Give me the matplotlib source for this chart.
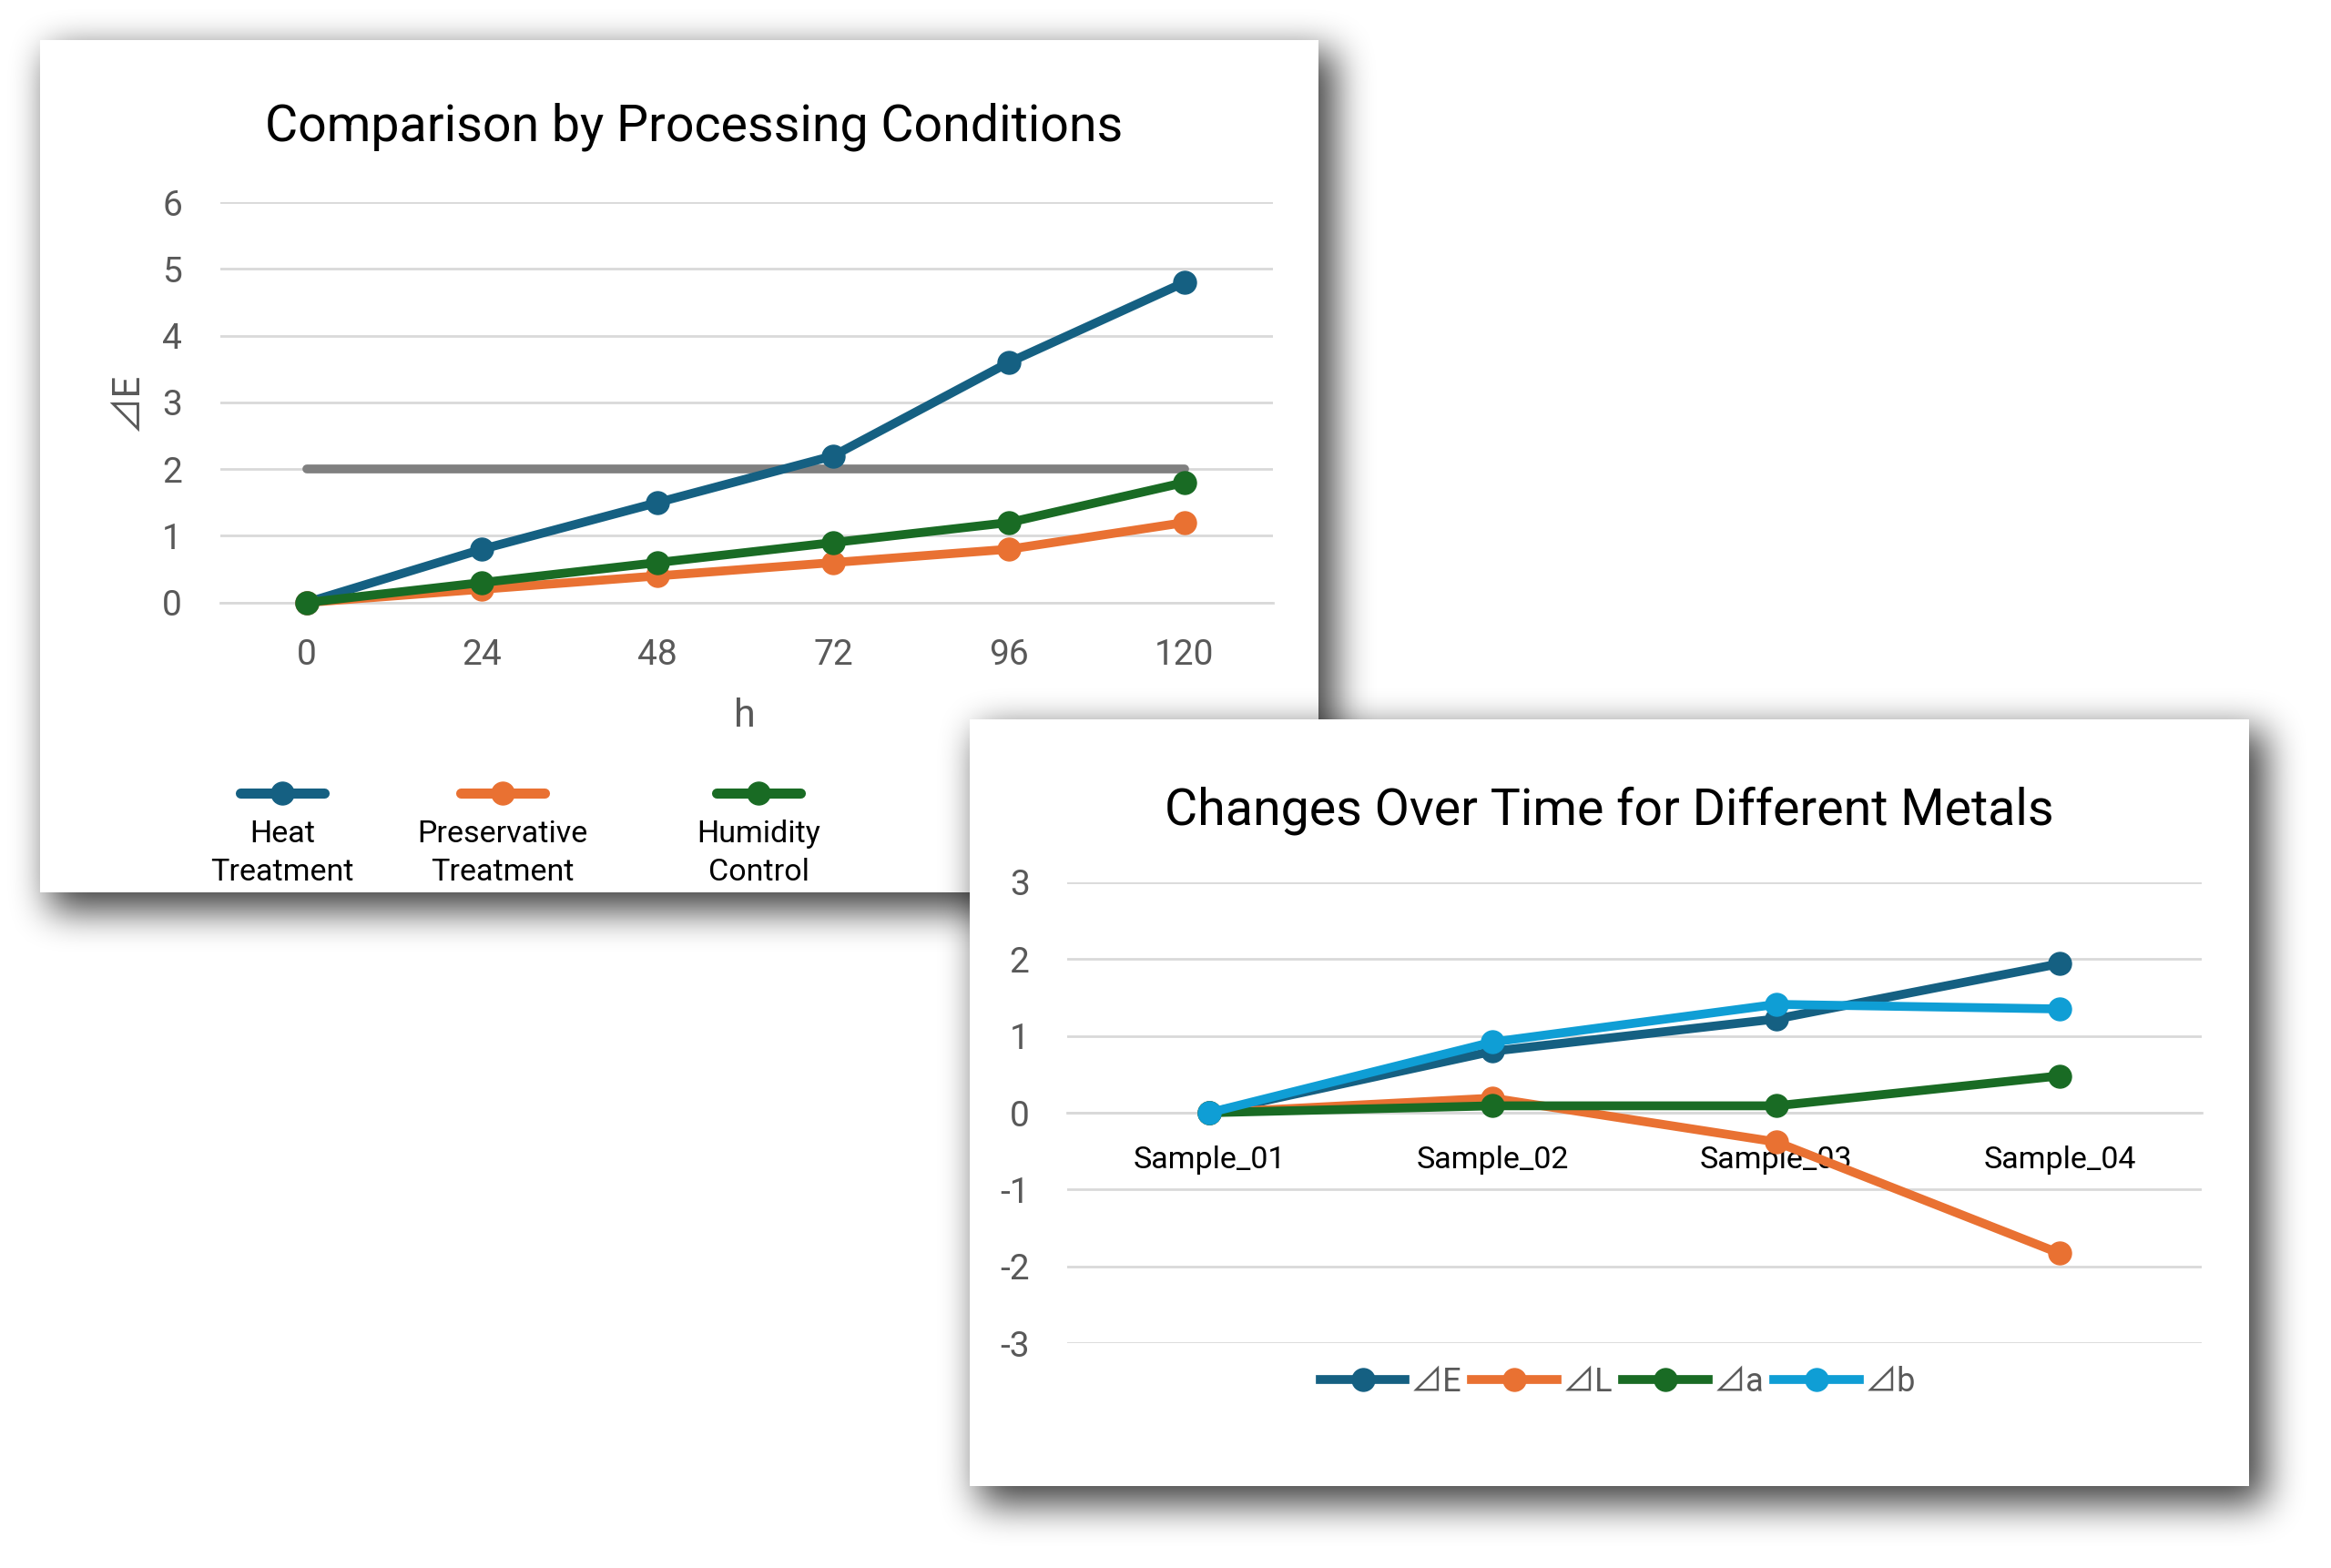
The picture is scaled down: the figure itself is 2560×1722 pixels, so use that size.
import numpy as np
import matplotlib
matplotlib.use("Agg")
import matplotlib.pyplot as plt
from matplotlib.lines import Line2D
from matplotlib.patches import Rectangle

plt.rcParams['font.family'] = ['Roboto', 'Noto Sans CJK JP', 'DejaVu Sans']

# ---------------- data ----------------
hours = [0, 24, 48, 72, 96, 120]
heat_treatment = [0, 0.8, 1.5, 2.2, 3.6, 4.8]
preservative_treatment = [0, 0.2, 0.4, 0.6, 0.8, 1.2]
humidity_control = [0, 0.3, 0.6, 0.9, 1.2, 1.8]
threshold = [2, 2, 2, 2, 2, 2]
series1_names = ["Heat\nTreatment", "Preservative\nTreatment", "Humidity\nControl"]
y1_ticks = [0, 1, 2, 3, 4, 5, 6]

samples = ["Sample_01", "Sample_02", "Sample_03", "Sample_04"]
dE = [0, 0.80, 1.22, 1.94]
dL = [0, 0.19, -0.38, -1.83]
da = [0, 0.09, 0.09, 0.48]
db = [0, 0.92, 1.41, 1.35]
series2_names = ["⊿E", "⊿L", "⊿a", "⊿b"]
y2_ticks = [-3, -2, -1, 0, 1, 2, 3]

C_BLUE = "#156082"
C_ORANGE = "#E97132"
C_GREEN = "#196B24"
C_LBLUE = "#0F9ED5"
C_GRAY = "#808080"
C_GRID = "#D9D9D9"
C_TICK = "#595959"

W, H = 2560, 1722
fig = plt.figure(figsize=(W / 100, H / 100), dpi=100)
fig.patch.set_facecolor("white")

# panel rectangles in pixels (left, top, right, bottom)
P1 = (44, 44, 1448, 980)
P2 = (1065, 790, 2470, 1632)


def blur1d(a, r, axis):
    a = np.moveaxis(a, axis, -1)
    pad = [(0, 0)] * (a.ndim - 1) + [(r + 1, r)]
    p = np.pad(a, pad, mode="constant")
    c = np.cumsum(p, axis=-1)
    out = (c[..., 2 * r + 1:] - c[..., :-2 * r - 1]) / (2 * r + 1)
    return np.moveaxis(out, -1, axis)


def shadow_image(rect, dx=18, dy=20, r=19, alpha=0.75):
    l, t, rr, b = rect
    m = np.zeros((H, W))
    m[t + dy - 8:b + dy, l + dx - 8:rr + dx] = 1.0
    for _ in range(3):
        m = blur1d(m, r, 1)
        m = blur1d(m, r, 0)
    img = np.zeros((H, W, 4))
    img[..., 3] = m * alpha
    return img


def fig_axes(zorder):
    ax = fig.add_axes([0, 0, 1, 1], zorder=zorder)
    ax.set_xlim(0, W)
    ax.set_ylim(H, 0)
    ax.axis("off")
    ax.patch.set_alpha(0)
    return ax


# shadow 1
sa1 = fig_axes(0)
sa1.imshow(shadow_image(P1), extent=[0, W, H, 0], aspect="auto", interpolation="bilinear")
# panel 1 background
pa1 = fig_axes(1)
pa1.add_patch(Rectangle((P1[0], P1[1]), P1[2] - P1[0], P1[3] - P1[1], facecolor="white", edgecolor="none"))

lw = 7
ms = 18

# ------------- panel 1 chart -------------
ax1 = fig.add_axes([0.0944, 0.6157, 0.4515, 0.2553], zorder=2)
ax1.patch.set_alpha(0)
ax1.plot(hours, threshold, color=C_GRAY, lw=lw, solid_capstyle="round", zorder=3)
ax1.plot(hours, heat_treatment, color=C_BLUE, lw=lw, marker="o", ms=ms, zorder=4)
ax1.plot(hours, preservative_treatment, color=C_ORANGE, lw=lw, marker="o", ms=ms, zorder=5)
ax1.plot(hours, humidity_control, color=C_GREEN, lw=lw, marker="o", ms=ms, zorder=6)
ax1.set_xlim(-11.8, 132)
ax1.set_ylim(0, 6)
ax1.set_yticks(y1_ticks)
ax1.set_xticks(hours)
ax1.grid(axis="y", color=C_GRID, lw=2)
ax1.set_axisbelow(True)
for s in ["top", "right", "left"]:
    ax1.spines[s].set_visible(False)
ax1.spines["bottom"].set_color(C_GRID)
ax1.spines["bottom"].set_linewidth(2)
ax1.tick_params(axis="both", length=0, labelsize=28, labelcolor=C_TICK)
ax1.tick_params(axis="y", pad=30)
ax1.tick_params(axis="x", pad=28)
for ln in ax1.lines:
    ln.set_clip_on(False)

pa1.text(762, 139, "Comparison by Processing Conditions", ha="center", va="center",
         fontsize=40, color="black")
pa1.text(818, 786, "h", ha="center", va="center", fontsize=31, color=C_TICK)
pa1.text(139, 441, "⊿E", ha="center", va="center", fontsize=30, color=C_TICK, rotation=90)

# panel 1 legend (handles with labels underneath)
leg_x = [310, 552, 833]
leg_cols = [C_BLUE, C_ORANGE, C_GREEN]
for x, c, name in zip(leg_x, leg_cols, series1_names):
    pa1.add_line(Line2D([x - 46, x + 46], [871, 871], color=c, lw=8, solid_capstyle="round"))
    pa1.add_line(Line2D([x], [871], color=c, marker="o", ms=18, lw=0))
    pa1.text(x, 937, name, ha="center", va="center", fontsize=24.5, color="black", linespacing=1.4)

# shadow 2
sa2 = fig_axes(3)
sa2.imshow(shadow_image(P2), extent=[0, W, H, 0], aspect="auto", interpolation="bilinear")
pa2 = fig_axes(4)
pa2.add_patch(Rectangle((P2[0], P2[1]), P2[2] - P2[0], P2[3] - P2[1], facecolor="white", edgecolor="none"))
pa2.text(1767, 890, "Changes Over Time for Different Metals", ha="center", va="center",
         fontsize=40, color="black")

# ------------- panel 2 chart -------------
ax2 = fig.add_axes([0.4579, 0.1433, 0.4866, 0.2941], zorder=5)
ax2.patch.set_alpha(0)
xi = np.arange(len(samples))
h1, = ax2.plot(xi, dE, color=C_BLUE, lw=lw, marker="o", ms=ms, zorder=3, label=series2_names[0])
h2, = ax2.plot(xi, dL, color=C_ORANGE, lw=lw, marker="o", ms=ms, zorder=4, label=series2_names[1])
h3, = ax2.plot(xi, da, color=C_GREEN, lw=lw, marker="o", ms=ms, zorder=5, label=series2_names[2])
h4, = ax2.plot(xi, db, color=C_LBLUE, lw=lw, marker="o", ms=ms, zorder=6, label=series2_names[3])
ax2.set_xlim(-0.5, 3.5)
ax2.set_ylim(-3, 3)
ax2.set_yticks(y2_ticks)
ax2.set_yticklabels([str(v) for v in y2_ticks])
ax2.set_xticks(xi)
ax2.set_xticklabels(samples)
ax2.grid(axis="y", color=C_GRID, lw=2)
ax2.set_axisbelow(True)
for s in ["top", "right", "left"]:
    ax2.spines[s].set_visible(False)
ax2.spines["bottom"].set_position(("data", 0))
ax2.spines["bottom"].set_color(C_GRID)
ax2.spines["bottom"].set_linewidth(2)
ax2.tick_params(axis="y", length=0, labelsize=28, labelcolor=C_TICK, pad=30)
ax2.tick_params(axis="x", length=0, labelsize=24.5, labelcolor="black", pad=26)
for ln in ax2.lines:
    ln.set_clip_on(False)

leg = ax2.legend(handles=[h1, h2, h3, h4], loc="center", bbox_to_anchor=(0.694, 0.1185),
                 bbox_transform=fig.transFigure, ncol=4, frameon=False, fontsize=26,
                 handlelength=2.6, handletextpad=0.15, columnspacing=0.3, markerscale=1.0)
for t in leg.get_texts():
    t.set_color(C_TICK)

fig.savefig("out.png", dpi=100, facecolor="white")
